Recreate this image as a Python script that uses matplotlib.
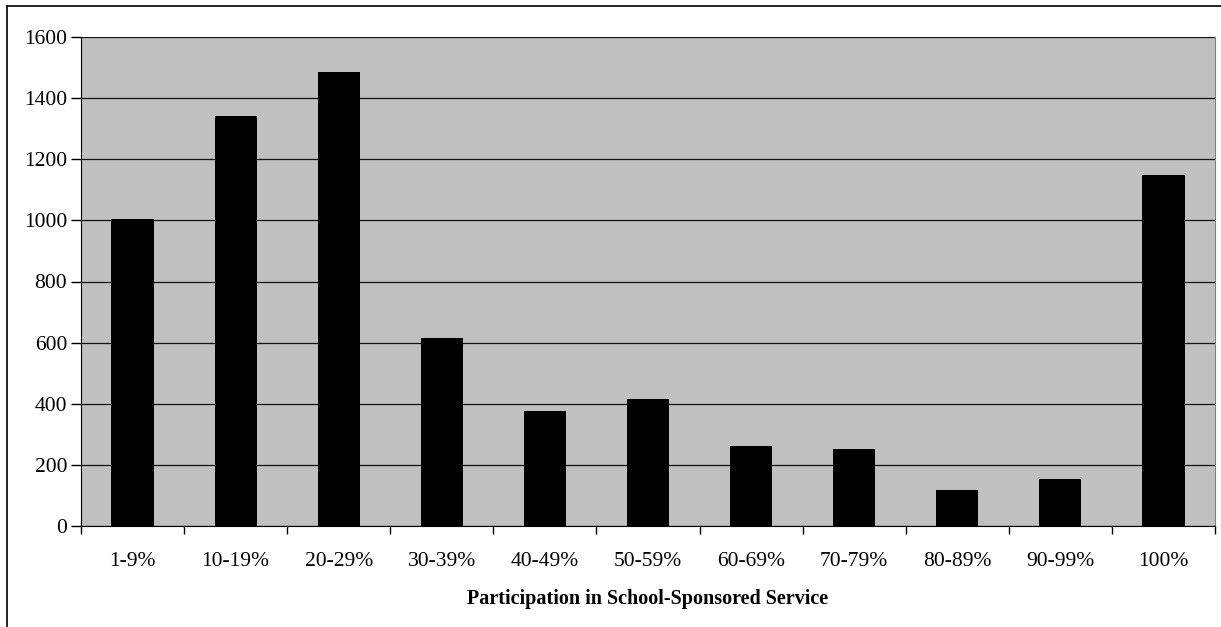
import matplotlib.pyplot as plt
import numpy as np

# participation bands and student counts
categories = ["1-9%", "10-19%", "20-29%", "30-39%", "40-49%", "50-59%",
              "60-69%", "70-79%", "80-89%", "90-99%", "100%"]
counts = [1005, 1342, 1485, 615, 375, 417, 262, 253, 119, 154, 1148]

plt.rcParams['font.family'] = ['Liberation Serif', 'DejaVu Serif']

fig = plt.figure(figsize=(12.21, 6.27), dpi=100)
ax = fig.add_axes([81 / 1221, 1 - 526 / 627, (1215 - 81) / 1221, (526 - 37) / 627])

x = np.arange(len(categories))
ax.bar(x, counts, width=0.41, color="black", zorder=3)

ax.set_facecolor("#c0c0c0")
ax.set_xlim(-0.5, len(categories) - 0.5)
ax.set_ylim(0, 1600)
ax.set_yticks(range(0, 1601, 200))
ax.yaxis.grid(True, color="#111111", linewidth=0.9, zorder=1)
ax.set_axisbelow(True)

# ticks sit between categories, labels at centres
ax.set_xticks(np.arange(-0.5, len(categories)), minor=False)
ax.set_xticklabels([])
ax.set_xticks(x, minor=True)
ax.set_xticklabels(categories, minor=True)
ax.tick_params(axis="x", which="major", length=6, width=1, color="black")
ax.tick_params(axis="x", which="minor", length=0, pad=19, labelsize=15.5)
ax.tick_params(axis="y", length=7, width=1, labelsize=15.5, pad=3)

ax.spines["top"].set_visible(False)
ax.spines["right"].set_color("#808080")
ax.spines["left"].set_color("black")
ax.spines["bottom"].set_color("black")

ax.set_xlabel("Participation in School-Sponsored Service", fontsize=14.5,
              fontweight="bold", labelpad=13)

# outer chart frame (left and top edges visible)
fig.add_artist(plt.Line2D([7 / 1221, 7 / 1221], [0, 1 - 6 / 627], color="black", lw=1.2))
fig.add_artist(plt.Line2D([7 / 1221, 1], [1 - 6 / 627, 1 - 6 / 627], color="black", lw=1.2))

fig.savefig("out.png", dpi=100)
